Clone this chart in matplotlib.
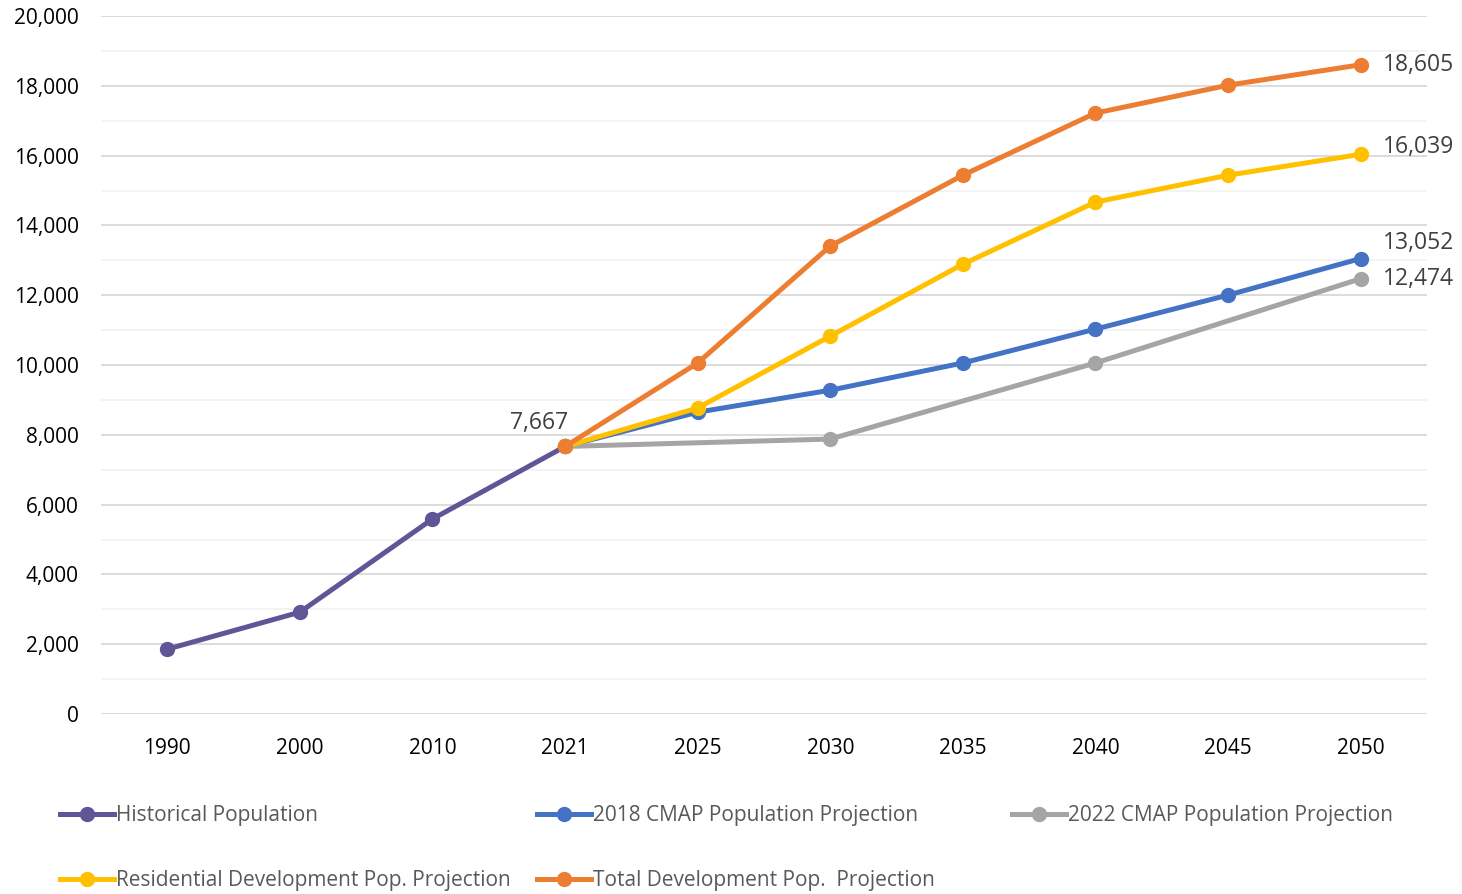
import matplotlib.pyplot as plt
from matplotlib.lines import Line2D
from matplotlib.ticker import MultipleLocator, FuncFormatter

plt.rcParams['font.family'] = ['Open Sans', 'DejaVu Sans']

years = ['1990', '2000', '2010', '2021', '2025', '2030', '2035', '2040', '2045', '2050']

# historical: 1990-2021
hist_idx = [0, 1, 2, 3]
hist_vals = [1860, 2920, 5590, 7667]

# 2018 CMAP: 2021-2050
cmap18_idx = [3, 4, 5, 6, 7, 8, 9]
cmap18_vals = [7667, 8650, 9280, 10060, 11030, 12005, 13052]

# 2022 CMAP: only some years given, line joins across the gaps
cmap22_idx = [3, 5, 7, 9]
cmap22_vals = [7667, 7880, 10060, 12474]

res_idx = [3, 4, 5, 6, 7, 8, 9]
res_vals = [7667, 8770, 10830, 12890, 14670, 15440, 16039]

tot_idx = [3, 4, 5, 6, 7, 8, 9]
tot_vals = [7667, 10060, 13410, 15440, 17220, 18020, 18605]

c_hist = '#5f5597'
c_18 = '#4472c4'
c_22 = '#a5a5a5'
c_res = '#ffc000'
c_tot = '#ed7d31'

fig = plt.figure(figsize=(14.62, 8.94), dpi=100)
ax = fig.add_axes([0.0691, 0.2013, 0.9069, 0.7807])

lw = 3.6
ms = 10
series = [
    ('Historical Population', hist_idx, hist_vals, c_hist),
    ('2018 CMAP Population Projection', cmap18_idx, cmap18_vals, c_18),
    ('2022 CMAP Population Projection', cmap22_idx, cmap22_vals, c_22),
    ('Residential Development Pop. Projection', res_idx, res_vals, c_res),
    ('Total Development Pop.  Projection', tot_idx, tot_vals, c_tot),
]
for name, xi, yv, col in series:
    ax.plot(xi, yv, color=col, lw=lw, marker='o', ms=ms, solid_capstyle='round', zorder=3)

ax.set_xlim(-0.5, len(years) - 0.5)
ax.set_ylim(0, 20000)
ax.set_xticks(range(len(years)))
ax.set_xticklabels(years)
ax.yaxis.set_major_locator(MultipleLocator(2000))
ax.yaxis.set_minor_locator(MultipleLocator(1000))
ax.yaxis.set_major_formatter(FuncFormatter(lambda v, p: f'{int(v):,}'))
ax.grid(axis='y', which='major', color='#d9d9d9', lw=1.3)
ax.grid(axis='y', which='minor', color='#f2f2f2', lw=1.3)
ax.set_axisbelow(True)
for s in ax.spines.values():
    s.set_visible(False)
ax.tick_params(axis='both', which='both', length=0, labelsize=15, colors='#000000')
ax.tick_params(axis='x', pad=17)
ax.tick_params(axis='y', pad=16)

lab_col = '#404040'
ax.annotate(f'{hist_vals[-1]:,}', (hist_idx[-1], hist_vals[-1]), xytext=(-19, 17),
            textcoords='offset points', ha='center', va='center', fontsize=16.5, color=lab_col)
for xi, yv, dy in [(tot_idx, tot_vals, 0), (res_idx, res_vals, 5), (cmap18_idx, cmap18_vals, 11),
                   (cmap22_idx, cmap22_vals, 0)]:
    ax.annotate(f'{yv[-1]:,}', (xi[-1], yv[-1]), xytext=(16, dy), textcoords='offset points',
                ha='left', va='center', fontsize=16.5, color=lab_col)

# legend entries placed like the Excel layout
pos = [(0.041, 0.088), (0.367, 0.088), (0.692, 0.088), (0.041, 0.015), (0.367, 0.015)]
for (name, xi, yv, col), (px, py) in zip(series, pos):
    h = Line2D([], [], color=col, lw=lw, marker='o', ms=ms)
    fig.legend(handles=[h], labels=[name], loc='center left', bbox_to_anchor=(px, py),
               frameon=False, fontsize=15, handlelength=2.6, handletextpad=0.1,
               labelcolor='#595959', borderaxespad=0, borderpad=0)

fig.savefig('out.png', dpi=100)
